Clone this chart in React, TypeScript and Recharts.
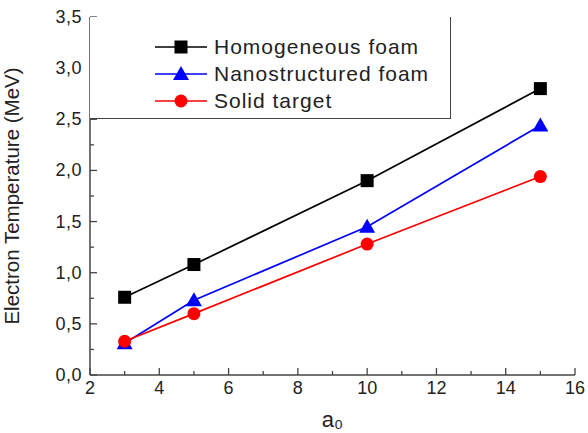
import React from "react";
import {
  LineChart,
  Line,
  XAxis,
  YAxis,
} from "recharts";

const aValues = [3, 5, 10, 15];
const homogeneous = [0.76, 1.08, 1.9, 2.8];
const nanostructured = [0.31, 0.73, 1.45, 2.44];
const solid = [0.33, 0.6, 1.28, 1.94];

const xTicks = [2, 3, 4, 5, 6, 7, 8, 9, 10, 11, 12, 13, 14, 15, 16];
const yTicks = [0, 0.25, 0.5, 0.75, 1, 1.25, 1.5, 1.75, 2, 2.25, 2.5, 2.75, 3, 3.25, 3.5];

const seriesNames = ["Homogeneous foam", "Nanostructured foam", "Solid target"];

const data = aValues.map((a, i) => ({
  a,
  homogeneous: homogeneous[i],
  nanostructured: nanostructured[i],
  solid: solid[i],
}));

const AXIS = "#444";
const FONT = "'Liberation Sans', Arial, sans-serif";

const Square = (props: any) => {
  const { cx, cy, fill } = props;
  return <rect key={`s${cx}`} x={cx - 6.5} y={cy - 6.5} width={13} height={13} fill={fill} />;
};

const Triangle = (props: any) => {
  const { cx, cy, fill } = props;
  return (
    <path key={`t${cx}`} d={`M${cx},${cy - 8} L${cx + 8},${cy + 6} L${cx - 8},${cy + 6} Z`} fill={fill} />
  );
};

const Circle = (props: any) => {
  const { cx, cy, fill } = props;
  return <circle key={`c${cx}`} cx={cx} cy={cy} r={6.5} fill={fill} />;
};

const YTick = (props: any) => {
  const { x, y, payload } = props;
  const v = payload.value;
  const major = Math.abs(v * 2 - Math.round(v * 2)) < 1e-6;
  return (
    <g>
      <line x1={x + 6} x2={x + 6 + (major ? 7 : 4)} y1={y} y2={y} stroke={AXIS} strokeWidth={1.3} />
      {major && (
        <text x={x - 2} y={y} dy={6} textAnchor="end" fontSize={18} fill="#222" fontFamily={FONT} letterSpacing={0.5}>
          {v.toFixed(1).replace(".", ",")}
        </text>
      )}
    </g>
  );
};

const XTick = (props: any) => {
  const { x, y, payload } = props;
  const v = payload.value;
  const major = v % 2 === 0;
  return (
    <g>
      <line x1={x} x2={x} y1={y - 4} y2={y - 4 - (major ? 7 : 4)} stroke={AXIS} strokeWidth={1.3} />
      {major && (
        <text x={x} y={y} dy={15} textAnchor="middle" fontSize={18} fill="#222" fontFamily={FONT}>
          {v}
        </text>
      )}
    </g>
  );
};

const markers = [
  { color: "#000000", shape: "square" },
  { color: "#0000ff", shape: "triangle" },
  { color: "#ff0000", shape: "circle" },
];

const LegendBox = () => (
  <div
    style={{
      position: "absolute",
      left: 90,
      top: 17,
      width: 361,
      height: 102,
      borderRight: `1.3px solid ${AXIS}`,
      borderBottom: `1.3px solid ${AXIS}`,
      boxSizing: "border-box",
      background: "#fff",
    }}
  >
    <svg width={360} height={100} style={{ display: "block" }}>
      {seriesNames.map((name, i) => {
        const cy = 30 + i * 27;
        const m = markers[i];
        return (
          <g key={name}>
            <line x1={65} x2={117} y1={cy} y2={cy} stroke={m.color} strokeWidth={1.6} />
            {m.shape === "square" && <Square cx={91} cy={cy} fill={m.color} />}
            {m.shape === "triangle" && <Triangle cx={91} cy={cy} fill={m.color} />}
            {m.shape === "circle" && <Circle cx={91} cy={cy} fill={m.color} />}
            <text x={124} y={cy} dy={7} fontSize={21} fill="#222" fontFamily={FONT} letterSpacing={1}>
              {name}
            </text>
          </g>
        );
      })}
    </svg>
  </div>
);

export default function App() {
  return (
    <div style={{ position: "absolute", left: 0, top: 0, width: 588, height: 433, background: "#fff" }}>
      <LineChart
        width={588}
        height={433}
        data={data}
        margin={{ top: 17, right: 13, left: 0, bottom: 28 }}
      >
        <XAxis
          dataKey="a"
          type="number"
          domain={[2, 16]}
          ticks={xTicks}
          interval={0}
          tick={<XTick />}
          tickLine={false}
          tickSize={0}
          tickMargin={4}
          height={30}
          stroke={AXIS}
          strokeWidth={1.5}
          label={{
            value: "a₀",
            position: "insideBottom",
            offset: -22,
            fontSize: 22,
            fill: "#222",
            fontFamily: FONT,
          }}
        />
        <XAxis
          xAxisId="top"
          orientation="top"
          dataKey="a"
          type="number"
          domain={[2, 16]}
          height={0}
          tick={false}
          tickLine={false}
          stroke={AXIS}
          strokeWidth={1.5}
        />
        <YAxis
          type="number"
          domain={[0, 3.5]}
          ticks={yTicks}
          interval={0}
          tick={<YTick />}
          tickLine={false}
          tickSize={0}
          tickMargin={6}
          width={90}
          stroke={AXIS}
          strokeWidth={1.5}
          label={{
            value: "Electron Temperature (MeV)",
            angle: -90,
            position: "insideLeft",
            offset: 12,
            style: { textAnchor: "middle" },
            fontSize: 20.5,
            fill: "#222",
            fontFamily: FONT,
          }}
        />
        <YAxis
          yAxisId="right"
          orientation="right"
          type="number"
          domain={[0, 3.5]}
          width={0}
          tick={false}
          tickLine={false}
          stroke={AXIS}
          strokeWidth={1.5}
        />
        <Line
          dataKey="homogeneous"
          name={seriesNames[0]}
          stroke="#000000"
          fill="#000000"
          strokeWidth={1.7}
          dot={Square}
          activeDot={false}
          isAnimationActive={false}
        />
        <Line
          dataKey="nanostructured"
          name={seriesNames[1]}
          stroke="#0000ff"
          fill="#0000ff"
          strokeWidth={1.7}
          dot={Triangle}
          activeDot={false}
          isAnimationActive={false}
        />
        <Line
          dataKey="solid"
          name={seriesNames[2]}
          stroke="#ff0000"
          fill="#ff0000"
          strokeWidth={1.7}
          dot={Circle}
          activeDot={false}
          isAnimationActive={false}
        />
      </LineChart>
      <LegendBox />
    </div>
  );
}
